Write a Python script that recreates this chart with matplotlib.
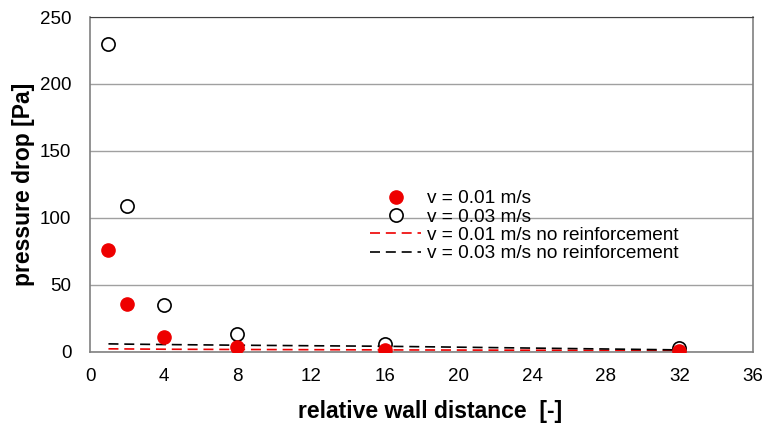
import matplotlib
matplotlib.use("Agg")
import matplotlib.pyplot as plt

plt.rcParams['font.family'] = ['Liberation Sans', 'DejaVu Sans']

wall_distance = [1, 2, 4, 8, 16, 32]
dp_v001 = [76, 36, 11, 4, 1.5, 1]
dp_v003 = [230, 109, 35, 13, 6, 3]
dp_v001_plain = [2.3, 2.2, 2.0, 1.8, 1.5, 1.0]
dp_v003_plain = [6.0, 5.8, 5.5, 5.0, 4.2, 1.5]

fig = plt.figure(figsize=(7.63, 4.25), dpi=100)
ax = fig.add_axes([0.118, 0.172, 0.869, 0.788])

ax.plot(wall_distance, dp_v001, 'o', color='#ee0000', markersize=9.5,
        markeredgecolor='#ee0000', label='v = 0.01 m/s', zorder=4)
ax.plot(wall_distance, dp_v003, 'o', markerfacecolor='white', markersize=9.5,
        markeredgecolor='black', markeredgewidth=1.2, label='v = 0.03 m/s', zorder=3)
ax.plot(wall_distance, dp_v001_plain, '--', color='#ee0000', lw=1.2,
        dashes=(6, 3.5), label='v = 0.01 m/s no reinforcement', zorder=2)
ax.plot(wall_distance, dp_v003_plain, '--', color='black', lw=1.2,
        dashes=(6, 3.5), label='v = 0.03 m/s no reinforcement', zorder=2)

ax.set_xlim(0, 36)
ax.set_ylim(0, 250)
ax.set_xticks(range(0, 37, 4))
ax.set_yticks(range(0, 251, 50))
ax.yaxis.grid(True, color='#a0a0a0', lw=1)
ax.set_axisbelow(True)
for side in ['left', 'bottom', 'right']:
    ax.spines[side].set_color('#808080')
    ax.spines[side].set_linewidth(1.2)
ax.spines['top'].set_color('#404040')
ax.tick_params(axis='both', length=0, labelsize=13.5)
ax.tick_params(axis='y', pad=13.5)
ax.tick_params(axis='x', pad=11.5)

ax.set_xlabel('relative wall distance  [-]', fontsize=16.5, fontweight='bold', labelpad=11)
ax.xaxis.set_label_coords(0.513, -0.145)
ax.set_ylabel('pressure drop [Pa]', fontsize=16.5, fontweight='bold', labelpad=3.5)

ax.legend(loc='upper left', bbox_to_anchor=(0.422, 0.483), frameon=False,
          fontsize=13.7, handlelength=2.7, handletextpad=0.3, labelspacing=0.05,
          borderpad=0, borderaxespad=0)

fig.savefig('out.png', dpi=100)
